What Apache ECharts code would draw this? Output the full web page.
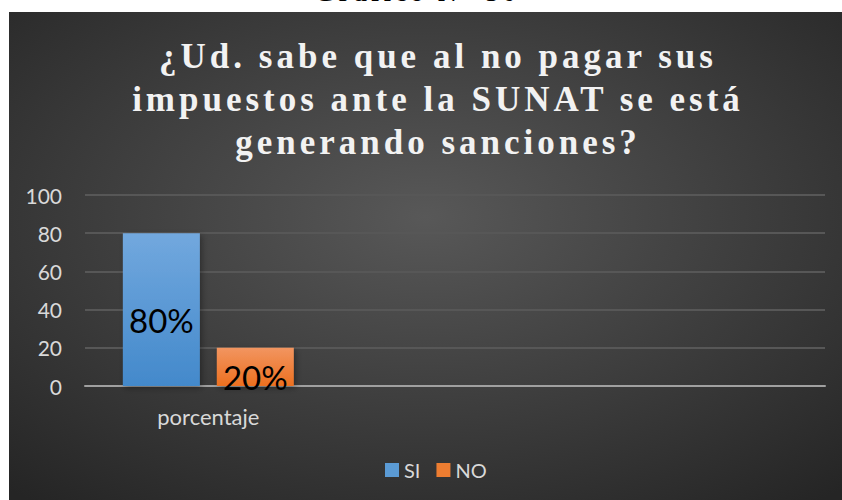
<!DOCTYPE html>
<html>
<head>
<meta charset="utf-8">
<script src="https://cdn.jsdelivr.net/npm/echarts@6/dist/echarts.min.js"></script>
<style>
html,body{margin:0;padding:0;background:#ffffff;}
#chart{width:842px;height:500px;}
#chart text[style*="Liberation Serif"]{letter-spacing:4px;}
</style>
</head>
<body>
<div id="chart"></div>
<script>
var categories = ['porcentaje', '', ''];
var seriesNames = ['SI', 'NO'];
var siValues = [80, null, null];
var noValues = [20, null, null];
var yTicks = [0, 20, 40, 60, 80, 100];
var titleLines = ['¿Ud. sabe que al no pagar sus', 'impuestos ante la SUNAT se está', 'generando sanciones?'];
var headerText = 'Gráfico N° 30';

var chart = echarts.init(document.getElementById('chart'), null, {renderer: 'svg'});
var axisFont = 'Lato, "Open Sans", sans-serif';

var option = {
  animation: false,
  backgroundColor: '#ffffff',
  graphic: [
    {
      type: 'rect', z: -10, silent: true,
      shape: {x: 9, y: 12, width: 833, height: 488},
      style: {
        fill: new echarts.graphic.RadialGradient(0.5, 0.42, 0.75, [
          {offset: 0, color: '#585858'},
          {offset: 1, color: '#252525'}
        ])
      }
    },
    {
      type: 'text', z: -5, silent: true,
      x: 417, y: 5,
      style: {
        text: headerText, fill: '#000000',
        font: 'bold 26px "Liberation Serif", serif',
        textAlign: 'center', textVerticalAlign: 'bottom'
      }
    },
    {
      type: 'text', silent: true,
      x: 438, y: 35,
      style: {
        text: titleLines.join('\n'), fill: '#f2f2f2',
        font: 'bold 35px "Liberation Serif", serif',
        lineHeight: 43,
        textAlign: 'center', textVerticalAlign: 'top'
      }
    }
  ],
  legend: {
    bottom: 15,
    left: 380,
    itemWidth: 14, itemHeight: 14, itemGap: 16,
    icon: 'rect',
    textStyle: {color: '#d9d9d9', fontSize: 20, fontFamily: axisFont}
  },
  grid: {left: 85, right: 17, top: 195, bottom: 114, containLabel: false},
  xAxis: {
    type: 'category',
    data: categories,
    axisLine: {lineStyle: {color: '#a0a0a0', width: 2}},
    axisTick: {show: false},
    axisLabel: {color: '#d9d9d9', fontSize: 22, fontFamily: axisFont, margin: 19}
  },
  yAxis: {
    type: 'value', min: yTicks[0], max: yTicks[yTicks.length - 1], interval: 20,
    axisLine: {show: false},
    axisTick: {show: false},
    splitLine: {lineStyle: {color: '#575757', width: 2}},
    axisLabel: {color: '#d9d9d9', fontSize: 21, fontFamily: axisFont, margin: 23}
  },
  series: [
    {
      name: seriesNames[0], type: 'bar', data: siValues,
      barWidth: 77, barGap: '22%',
      itemStyle: {
        color: new echarts.graphic.LinearGradient(0, 0, 0, 1, [
          {offset: 0, color: '#72a8de'},
          {offset: 1, color: '#4389cb'}
        ]),
        shadowColor: 'rgba(0,0,0,0.35)', shadowBlur: 6, shadowOffsetX: 2, shadowOffsetY: 2
      },
      label: {
        show: true, position: 'inside', offset: [0, 10],
        color: '#000000', fontSize: 33, fontFamily: axisFont,
        formatter: function (p) { return p.value + '%'; }
      }
    },
    {
      name: seriesNames[1], type: 'bar', data: noValues,
      barWidth: 77,
      itemStyle: {
        color: new echarts.graphic.LinearGradient(0, 0, 0, 1, [
          {offset: 0, color: '#f29560'},
          {offset: 1, color: '#ec7020'}
        ]),
        shadowColor: 'rgba(0,0,0,0.35)', shadowBlur: 6, shadowOffsetX: 2, shadowOffsetY: 2
      },
      label: {
        show: true, position: 'inside', offset: [0, 10],
        color: '#000000', fontSize: 33, fontFamily: axisFont,
        formatter: function (p) { return p.value + '%'; }
      }
    }
  ]
};
option.legend.data = seriesNames.map(function (n, i) {
  return {name: n, itemStyle: {color: i === 0 ? '#5b9bd5' : '#ed7d31'}};
});
chart.setOption(option);
</script>
</body>
</html>
